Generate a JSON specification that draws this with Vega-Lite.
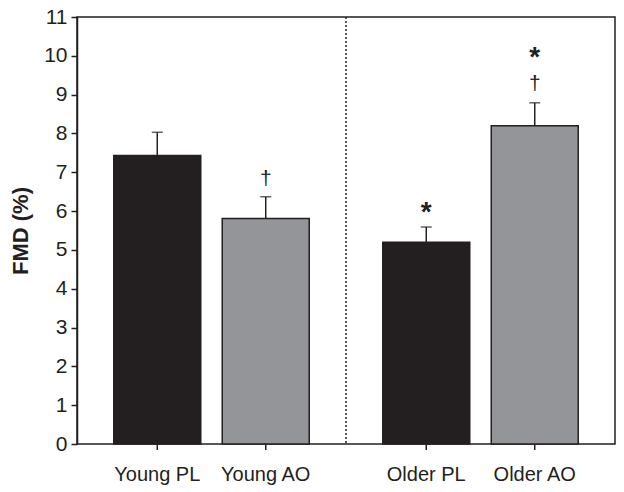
{
  "$schema": "https://vega.github.io/schema/vega-lite/v6.json",
  "width": 538,
  "height": 427,
  "autosize": {"type": "none"},
  "padding": {"left": 77, "top": 17, "right": 9, "bottom": 48},
  "background": "white",
  "config": {
    "view": {"stroke": "#231f20", "strokeWidth": 1.5},
    "font": "Liberation Sans",
    "axisY": {
      "titleFontSize": 22,
      "titleFontWeight": "bold",
      "titleColor": "#231f20",
      "titlePadding": 11,
      "labelFontSize": 21,
      "labelColor": "#231f20",
      "labelPadding": 4,
      "labelOverlap": false,
      "tickSize": 6,
      "tickWidth": 1.5,
      "tickColor": "#231f20",
      "domainColor": "#231f20",
      "domainWidth": 1.5,
      "grid": false
    }
  },
  "datasets": {
    "bars": [
      {"group": "Young", "trt": "PL", "label": "Young PL", "mean": 7.43, "upper": 8.03},
      {"group": "Young", "trt": "AO", "label": "Young AO", "mean": 5.81, "upper": 6.37},
      {"group": "Older", "trt": "PL", "label": "Older PL", "mean": 5.2, "upper": 5.59},
      {"group": "Older", "trt": "AO", "label": "Older AO", "mean": 8.2, "upper": 8.79}
    ],
    "notes": [
      {"group": "Young", "trt": "AO", "sym": "†", "kind": "dagger", "pos": 6.84},
      {"group": "Older", "trt": "PL", "sym": "*", "kind": "star", "pos": 6.09},
      {"group": "Older", "trt": "AO", "sym": "†", "kind": "dagger", "pos": 9.3},
      {"group": "Older", "trt": "AO", "sym": "*", "kind": "star", "pos": 10.08}
    ]
  },
  "layer": [
    {
      "data": {"name": "bars"},
      "mark": {"type": "bar", "stroke": "#231f20", "strokeWidth": 1.5},
      "encoding": {
        "x": {"field": "group", "type": "nominal", "scale": {"domain": ["Young", "Older"], "paddingInner": 0, "paddingOuter": 0}, "axis": null},
        "xOffset": {"field": "trt", "type": "nominal", "scale": {"domain": ["PL", "AO"], "paddingInner": 0.198, "paddingOuter": 0.339}},
        "y": {
          "field": "mean", "type": "quantitative",
          "scale": {"domain": [0, 11], "nice": false},
          "axis": {"values": [0, 1, 2, 3, 4, 5, 6, 7, 8, 9, 10, 11], "title": "FMD (%)"}
        },
        "color": {"field": "trt", "type": "nominal", "scale": {"domain": ["PL", "AO"], "range": ["#231f20", "#939598"]}, "legend": null}
      }
    },
    {
      "data": {"name": "bars"},
      "mark": {"type": "rule", "color": "#231f20", "strokeWidth": 1.5},
      "encoding": {
        "x": {"field": "group", "type": "nominal", "axis": null},
        "xOffset": {"field": "trt", "type": "nominal"},
        "y": {"field": "mean", "type": "quantitative", "axis": {"values": [0, 1, 2, 3, 4, 5, 6, 7, 8, 9, 10, 11], "title": "FMD (%)"}},
        "y2": {"field": "upper"}
      }
    },
    {
      "data": {"name": "bars"},
      "mark": {"type": "tick", "orient": "horizontal", "color": "#231f20", "size": 11, "thickness": 1.5},
      "encoding": {
        "x": {"field": "group", "type": "nominal", "axis": null},
        "xOffset": {"field": "trt", "type": "nominal"},
        "y": {"field": "upper", "type": "quantitative", "axis": {"values": [0, 1, 2, 3, 4, 5, 6, 7, 8, 9, 10, 11], "title": "FMD (%)"}}
      }
    },
    {
      "data": {"name": "notes"},
      "transform": [{"filter": "datum.kind === 'dagger'"}],
      "mark": {"type": "text", "fontSize": 21, "color": "#231f20", "baseline": "middle", "dy": 1},
      "encoding": {
        "x": {"field": "group", "type": "nominal", "axis": null},
        "xOffset": {"field": "trt", "type": "nominal"},
        "y": {"field": "pos", "type": "quantitative", "axis": {"values": [0, 1, 2, 3, 4, 5, 6, 7, 8, 9, 10, 11], "title": "FMD (%)"}},
        "text": {"field": "sym"}
      }
    },
    {
      "data": {"name": "notes"},
      "transform": [{"filter": "datum.kind === 'star'"}],
      "mark": {"type": "text", "fontSize": 28, "fontWeight": "bold", "color": "#231f20", "baseline": "middle", "dy": 5},
      "encoding": {
        "x": {"field": "group", "type": "nominal", "axis": null},
        "xOffset": {"field": "trt", "type": "nominal"},
        "y": {"field": "pos", "type": "quantitative", "axis": {"values": [0, 1, 2, 3, 4, 5, 6, 7, 8, 9, 10, 11], "title": "FMD (%)"}},
        "text": {"field": "sym"}
      }
    },
    {
      "data": {"name": "bars"},
      "mark": {"type": "rule", "color": "#231f20", "strokeWidth": 1.5},
      "encoding": {
        "x": {"field": "group", "type": "nominal", "axis": null},
        "xOffset": {"field": "trt", "type": "nominal"},
        "y": {"datum": 0, "axis": {"values": [0, 1, 2, 3, 4, 5, 6, 7, 8, 9, 10, 11], "title": "FMD (%)"}},
        "y2": {"datum": -0.155}
      }
    },
    {
      "data": {"name": "bars"},
      "mark": {"type": "text", "fontSize": 20, "color": "#231f20", "baseline": "alphabetic", "dy": 37},
      "encoding": {
        "x": {"field": "group", "type": "nominal", "axis": null},
        "xOffset": {"field": "trt", "type": "nominal"},
        "y": {"datum": 0, "axis": {"values": [0, 1, 2, 3, 4, 5, 6, 7, 8, 9, 10, 11], "title": "FMD (%)"}},
        "text": {"field": "label"}
      }
    },
    {
      "data": {"values": [{"sep": "Older"}]},
      "mark": {"type": "rule", "color": "#231f20", "strokeWidth": 1.5, "strokeDash": [2, 2]},
      "encoding": {
        "x": {"field": "sep", "type": "nominal", "bandPosition": 0, "axis": null}
      }
    }
  ]
}
